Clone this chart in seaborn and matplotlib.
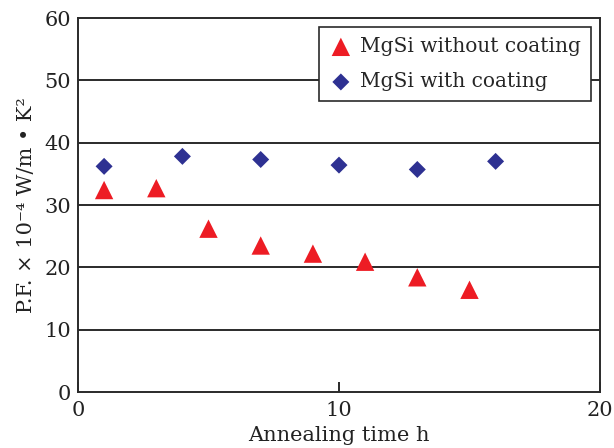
import matplotlib
matplotlib.use("Agg")
import matplotlib.pyplot as plt
import seaborn as sns
import pandas as pd

# Data
t_without = [1, 3, 5, 7, 9, 11, 13, 15]
pf_without = [32.4, 32.7, 26.2, 23.5, 22.2, 20.9, 18.4, 16.4]
t_with = [1, 4, 7, 10, 13, 16]
pf_with = [36.2, 37.8, 37.3, 36.4, 35.7, 37.0]
series_names = ["MgSi without coating", "MgSi with coating"]
x_ticks = [0, 10, 20]
y_ticks = [0, 10, 20, 30, 40, 50, 60]

df = pd.DataFrame({
    "time": t_without + t_with,
    "pf": pf_without + pf_with,
    "series": [series_names[0]] * len(t_without) + [series_names[1]] * len(t_with),
})

sns.set_theme(style="white")
plt.rcParams["font.family"] = ["DejaVu Serif"]

fig = plt.figure(figsize=(6.14, 4.48), dpi=100)
ax = fig.add_axes([78 / 614, 56 / 448, 522 / 614, 374 / 448])

palette = {series_names[0]: "#ED1C24", series_names[1]: "#2E3192"}
markers = {series_names[0]: "^", series_names[1]: "D"}
sizes = {series_names[0]: 175, series_names[1]: 75}

for name in series_names:
    sub = df[df["series"] == name]
    sns.scatterplot(data=sub, x="time", y="pf", color=palette[name],
                    marker=markers[name], s=sizes[name],
                    edgecolor="none", linewidth=0, ax=ax, label=name, zorder=3)

ax.set_xlim(0, 20)
ax.set_ylim(0, 60)
ax.set_xticks(x_ticks)
ax.set_yticks(y_ticks)
for y in y_ticks[1:-1]:
    ax.axhline(y, color="#2a2a2a", linewidth=1.4, zorder=1)

for s in ax.spines.values():
    s.set_color("#2a2a2a")
    s.set_linewidth(1.4)
    s.set_visible(True)

ax.tick_params(axis="x", which="major", direction="in", length=7, width=1.4,
               color="#2a2a2a", labelsize=15, pad=6.5, bottom=True, top=False)
ax.tick_params(axis="y", length=0, labelsize=15, pad=5, left=True)

ax.set_xlabel("Annealing time h", fontsize=15, labelpad=4, color="#222222")
ax.set_ylabel("P.F. × 10⁻⁴ W/m • K²", fontsize=15, labelpad=6, color="#222222")
for lbl in ax.get_xticklabels() + ax.get_yticklabels():
    lbl.set_color("#222222")

leg = ax.legend(loc="upper right", fontsize=14.5, frameon=True, fancybox=False,
                borderaxespad=0.45, handletextpad=0.35, borderpad=0.5,
                labelspacing=0.8, handlelength=1.2, markerscale=1.0)
leg.get_frame().set_edgecolor("#2a2a2a")
leg.get_frame().set_linewidth(1.2)
leg.get_frame().set_facecolor("white")
leg.get_frame().set_alpha(1)
leg.set_zorder(5)

fig.savefig("out.png", dpi=100)
